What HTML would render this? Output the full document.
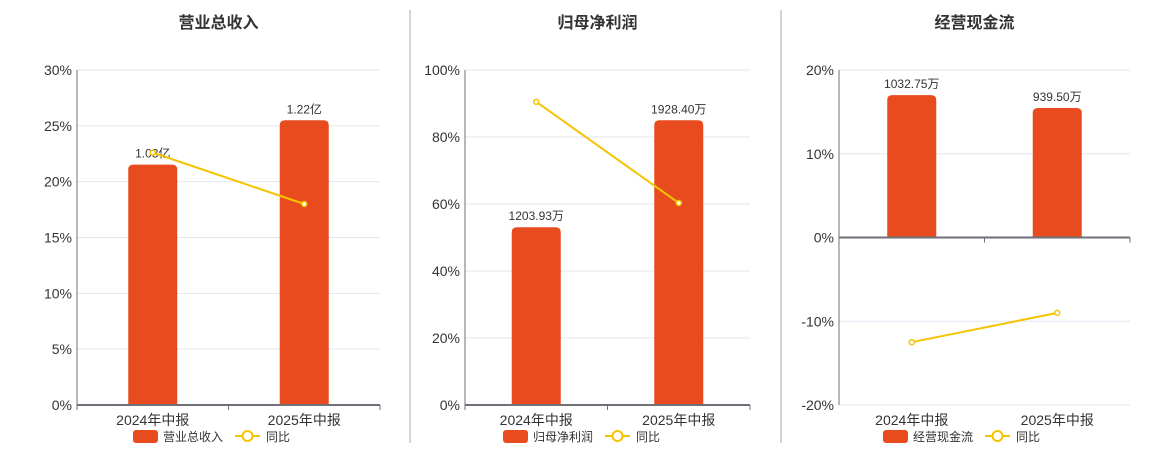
<!DOCTYPE html>
<html><head><meta charset="utf-8">
<style>
html,body{margin:0;padding:0;background:#fff;}
svg{display:block;font-family:"Liberation Sans","Noto Sans CJK SC",sans-serif;}
</style></head>
<body>
<svg id="c" width="1160" height="450" viewBox="0 0 1160 450" xmlns="http://www.w3.org/2000/svg"></svg>
<script>
const categories = ["2024年中报", "2025年中报"];
const revenueValues = [1.03, 1.22];
const revenueLabels = ["1.03亿", "1.22亿"];
const revenueYoY = [22.6, 18.0];
const revenueTicks = [0, 5, 10, 15, 20, 25, 30];
const profitValues = [1203.93, 1928.40];
const profitLabels = ["1203.93万", "1928.40万"];
const profitYoY = [90.5, 60.3];
const profitTicks = [0, 20, 40, 60, 80, 100];
const cashValues = [1032.75, 939.50];
const cashLabels = ["1032.75万", "939.50万"];
const cashYoY = [-12.5, -9.0];
const cashTicks = [-20, -10, 0, 10, 20];

const NS = "http://www.w3.org/2000/svg";
const svg = document.getElementById("c");
function mk(tag, attrs, parent, text) {
  const e = document.createElementNS(NS, tag);
  for (const k in attrs) e.setAttribute(k, attrs[k]);
  if (text !== undefined) e.textContent = text;
  (parent || svg).appendChild(e);
  return e;
}

function panel(cfg) {
  const g = mk("g", {});
  
  
  const x0 = cfg.x0, x1 = cfg.x1, yT = 70, yB = 405;
  const tmin = cfg.ticks[0], tmax = cfg.ticks[cfg.ticks.length - 1];
  const yP = v => yB - (v - tmin) / (tmax - tmin) * (yB - yT);
  const y0 = yP(0);
  const bw = (x1 - x0) / categories.length;
  const xC = i => x0 + bw * (i + 0.5);
  const bmax = Math.max(...cfg.values);
  const barH = v => v / bmax * (y0 - yT) * 0.85;

  const t = mk("text", {x: (x0 + x1) / 2 - 10, y: 28, "text-anchor": "middle", "font-size": 16, "font-weight": "bold", fill: "#333"}, g, cfg.title);
  
  

  cfg.ticks.forEach(v => {
    const y = yP(v);
    const gl = mk("line", {x1: x0, x2: x1, y1: y, y2: y, stroke: "#e0e6f1", "stroke-width": 1}, g);
    
    
    const tl = mk("text", {x: x0 - 5, y: y + 5, "text-anchor": "end", "font-size": 14, fill: "#333"}, g, v + "%");
    
    
  });
  const ya = mk("line", {x1: x0, x2: x0, y1: yT, y2: yB, stroke: "#6e7079", "stroke-width": 1}, g);
  
  

  cfg.values.forEach((v, i) => {
    const h = barH(v), cx = xC(i), w = 49;
    const b = mk("path", {d: `M${cx - w/2},${y0} V${y0 - h + 5} Q${cx - w/2},${y0 - h} ${cx - w/2 + 5},${y0 - h} H${cx + w/2 - 5} Q${cx + w/2},${y0 - h} ${cx + w/2},${y0 - h + 5} V${y0} Z`, fill: "#e84c1e"}, g);
    
    
    const l = mk("text", {x: cx, y: y0 - h - 7, "text-anchor": "middle", "font-size": 12, fill: "#333"}, g, cfg.labels[i]);
    
    
  });

  const xa = mk("line", {x1: x0, x2: x1, y1: y0, y2: y0, stroke: "#6e7079", "stroke-width": 2}, g);
  
  
  for (let i = 0; i <= categories.length; i++) {
    const tk = mk("line", {x1: x0 + bw * i, x2: x0 + bw * i, y1: y0, y2: y0 + 5, stroke: "#6e7079"}, g);
    
    
  }
  categories.forEach((c, i) => {
    const xl = mk("text", {x: xC(i), y: 425, "text-anchor": "middle", "font-size": 14, fill: "#333"}, g, c);
    
    
  });

  const pts = cfg.yoy.map((v, i) => xC(i) + "," + yP(v)).join(" ");
  const pl = mk("polyline", {points: pts, fill: "none", stroke: "#f5c400", "stroke-width": 2}, g);
  
  
  cfg.yoy.forEach((v, i) => {
    const p = mk("circle", {cx: xC(i), cy: yP(v), r: 2.5, fill: "#fff", stroke: "#f5c400", "stroke-width": 1.5}, g);
    
    
  });

  const lx = cfg.legendX;
  const lg = mk("g", {}, g);
  
  
  const lr = mk("rect", {x: lx, y: 430, width: 25, height: 13, rx: 3, fill: "#e84c1e"}, lg);
  
  
  const lt = mk("text", {x: lx + 30, y: 441, "font-size": 12, fill: "#333"}, lg, cfg.title);
  
  
  const off = 30 + cfg.title.length * 12 + 12;
  const ll = mk("line", {x1: lx + off, x2: lx + off + 25, y1: 436, y2: 436, stroke: "#f5c400", "stroke-width": 2}, lg);
  
  
  const lc = mk("circle", {cx: lx + off + 12.5, cy: 436, r: 5, fill: "#fff", stroke: "#f5c400", "stroke-width": 2}, lg);
  
  
  const lt2 = mk("text", {x: lx + off + 31, y: 441, "font-size": 12, fill: "#333"}, lg, "同比");
  
  
}

panel({key: "revenue", title: "营业总收入", x0: 77, x1: 380, ticks: revenueTicks, values: revenueValues, labels: revenueLabels, yoy: revenueYoY, legendX: 133});
panel({key: "net-profit", title: "归母净利润", x0: 465, x1: 750, ticks: profitTicks, values: profitValues, labels: profitLabels, yoy: profitYoY, legendX: 503});
panel({key: "cash-flow", title: "经营现金流", x0: 839, x1: 1130, ticks: cashTicks, values: cashValues, labels: cashLabels, yoy: cashYoY, legendX: 883});

[410, 781].forEach(x => {
  const d = mk("line", {x1: x, x2: x, y1: 10, y2: 443, stroke: "#aaa", "stroke-width": 1});
  
  
});
</script>
</body></html>
